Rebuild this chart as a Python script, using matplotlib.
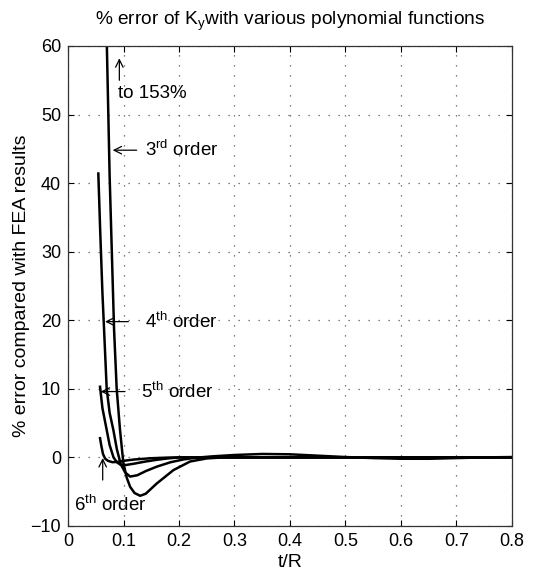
import matplotlib
matplotlib.use("Agg")
import matplotlib.pyplot as plt

plt.rcParams.update({
    "font.family": ["Liberation Sans", "DejaVu Sans"],
    "mathtext.fontset": "custom",
    "mathtext.rm": "Liberation Sans",
    "mathtext.it": "Liberation Sans",
    "font.size": 13.5,
})

# % error vs t/R for each polynomial order
x_3rd = [0.055, 0.060, 0.065, 0.070, 0.075, 0.080, 0.083, 0.0877, 0.0937, 0.0997,
         0.106, 0.112, 0.120, 0.130, 0.140, 0.160, 0.190, 0.220, 0.250, 0.280, 0.30, 0.80]
y_3rd = [153, 115, 84, 60, 41, 27, 18.6, 10, 4, -0.8,
         -3.0, -4.3, -5.2, -5.6, -5.3, -3.8, -1.85, -0.6, -0.15, 0.0, 0.0, 0.0]

x_4th = [0.0546, 0.058, 0.062, 0.065, 0.0697, 0.075, 0.0817, 0.088, 0.095,
         0.103, 0.112, 0.125, 0.140, 0.160, 0.185, 0.208, 0.230, 0.260, 0.30,
         0.35, 0.40, 0.45, 0.50, 0.55, 0.60, 0.65, 0.70, 0.75, 0.80]
y_4th = [41.4, 33, 24, 18.6, 10, 6.5, 4, 1.2, -1.0,
         -2.2, -2.8, -2.6, -2.0, -1.35, -0.7, -0.3, -0.05, 0.15, 0.35,
         0.5, 0.45, 0.25, 0.05, -0.1, -0.2, -0.2, -0.1, 0.0, 0.05]

x_5th = [0.0577, 0.062, 0.0697, 0.075, 0.082, 0.088, 0.095, 0.105, 0.120,
         0.140, 0.160, 0.180, 0.200, 0.80]
y_5th = [10.3, 7.2, 4, 1.8, 0.0, -0.7, -1.1, -1.1, -0.9,
         -0.6, -0.35, -0.15, 0.0, 0.0]

x_6th = [0.0577, 0.060, 0.063, 0.067, 0.072, 0.080, 0.090, 0.100, 0.120,
         0.150, 0.180, 0.200, 0.80]
y_6th = [2.8, 1.7, 0.5, -0.2, -0.5, -0.7, -0.65, -0.5, -0.3,
         -0.12, -0.03, 0.0, 0.0]

xticks = [0, 0.1, 0.2, 0.3, 0.4, 0.5, 0.6, 0.7, 0.8]
xtick_labels = ["0", "0.1", "0.2", "0.3", "0.4", "0.5", "0.6", "0.7", "0.8"]
yticks = [-10, 0, 10, 20, 30, 40, 50, 60]
ytick_labels = ["\u221210", "0", "10", "20", "30", "40", "50", "60"]

fig = plt.figure(figsize=(5.42, 5.79), dpi=100)
ax = fig.add_axes([0.1255, 0.0916, 0.819, 0.829])

for xs, ys in [(x_3rd, y_3rd), (x_4th, y_4th), (x_5th, y_5th), (x_6th, y_6th)]:
    ax.plot(xs, ys, color="black", lw=1.8, solid_joinstyle="round")

ax.set_xlim(0, 0.8)
ax.set_ylim(-10, 60)
ax.set_xticks(xticks)
ax.set_xticklabels(xtick_labels)
ax.set_yticks(yticks)
ax.set_yticklabels(ytick_labels)
ax.tick_params(direction="in", top=True, right=True, length=4, width=0.8,
               labelsize=13, pad=5)
ax.grid(True, color="#555555", linestyle=(0, (1, 7)), lw=0.9)
for s in ax.spines.values():
    s.set_linewidth(0.9)
    s.set_color("#333333")

ax.set_title(r"% error of K$_{\mathrm{y}}$with various polynomial functions",
             fontsize=13.8, pad=15)
ax.set_xlabel("t/R", fontsize=14, labelpad=3)
ax.set_ylabel("% error compared with FEA results", fontsize=14, labelpad=0)

arr = dict(arrowstyle="->", color="black", lw=0.9, shrinkA=0, shrinkB=0)
ax.annotate("", xy=(0.0925, 58.2), xytext=(0.0925, 55.0), arrowprops=arr)
ax.text(0.0895, 53.0, "to 153%", va="center", ha="left")

ax.annotate("", xy=(0.0805, 44.8), xytext=(0.1237, 44.8), arrowprops=arr)
ax.text(0.139, 44.8, "3$^{\\mathrm{rd}}$ order", va="center", ha="left")

ax.annotate("", xy=(0.0667, 19.8), xytext=(0.1087, 19.8), arrowprops=arr)
ax.text(0.139, 19.8, "4$^{\\mathrm{th}}$ order", va="center", ha="left")

ax.annotate("", xy=(0.0589, 9.6), xytext=(0.1027, 9.6), arrowprops=arr)
ax.text(0.131, 9.6, "5$^{\\mathrm{th}}$ order", va="center", ha="left")

ax.annotate("", xy=(0.0625, -0.1), xytext=(0.0625, -3.3), arrowprops=arr)
ax.text(0.011, -6.9, "6$^{\\mathrm{th}}$ order", va="center", ha="left")

fig.savefig("out.png", dpi=100)
